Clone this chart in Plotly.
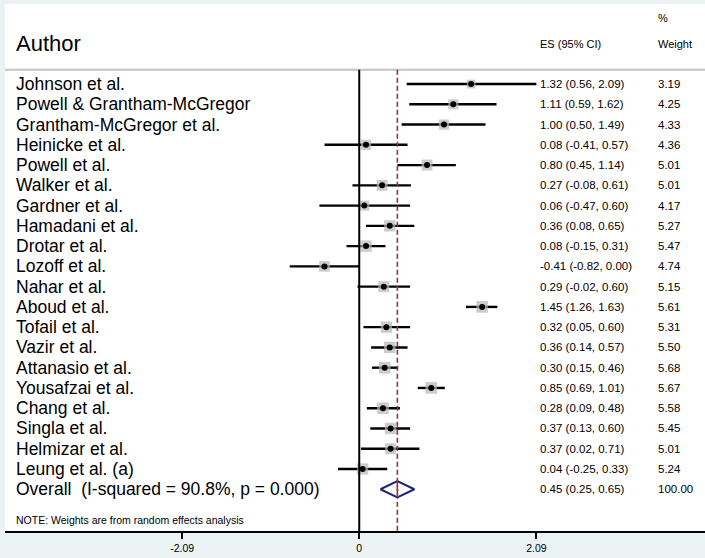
import numpy as np
import plotly.graph_objects as go

# Study-level effect sizes (standardised mean differences) with 95% CI and random-effects weights
authors = [
    "Johnson et al.", "Powell & Grantham-McGregor", "Grantham-McGregor et al.",
    "Heinicke et al.", "Powell et al.", "Walker et al.", "Gardner et al.",
    "Hamadani et al.", "Drotar et al.", "Lozoff et al.", "Nahar et al.",
    "Aboud et al.", "Tofail et al.", "Vazir et al.", "Attanasio et al.",
    "Yousafzai et al.", "Chang et al.", "Singla et al.", "Helmizar et al.",
    "Leung et al. (a)",
]
es = [1.32, 1.11, 1.00, 0.08, 0.80, 0.27, 0.06, 0.36, 0.08, -0.41,
      0.29, 1.45, 0.32, 0.36, 0.30, 0.85, 0.28, 0.37, 0.37, 0.04]
ci_low = [0.56, 0.59, 0.50, -0.41, 0.45, -0.08, -0.47, 0.08, -0.15, -0.82,
          -0.02, 1.26, 0.05, 0.14, 0.15, 0.69, 0.09, 0.13, 0.02, -0.25]
ci_high = [2.09, 1.62, 1.49, 0.57, 1.14, 0.61, 0.60, 0.65, 0.31, 0.00,
           0.60, 1.63, 0.60, 0.57, 0.46, 1.01, 0.48, 0.60, 0.71, 0.33]
weights = [3.19, 4.25, 4.33, 4.36, 5.01, 5.01, 4.17, 5.27, 5.47, 4.74,
           5.15, 5.61, 5.31, 5.50, 5.68, 5.67, 5.58, 5.45, 5.01, 5.24]

overall_label = "Overall&nbsp;&nbsp;(I-squared = 90.8%, p = 0.000)"
overall_es, overall_low, overall_high, overall_weight = 0.45, 0.25, 0.65, 100.00

tick_vals = [-2.09, 0, 2.09]
tick_text = ["-2.09", "0", "2.09"]

n = len(authors)
rows = list(range(n))
overall_row = n

FONT = "Liberation Sans, Arial, Helvetica, sans-serif"
BG = "#eaf2f3"
RED = "#9e2f3a"
DASH = "5px,3px"

fig = go.Figure()

# Confidence interval whiskers
cx, cy = [], []
for r, lo, hi in zip(rows, ci_low, ci_high):
    cx += [lo, hi, None]
    cy += [r, r, None]
fig.add_trace(go.Scatter(x=cx, y=cy, mode="lines",
                         line=dict(color="black", width=2.4),
                         hoverinfo="skip", showlegend=False))

# Weight boxes (area proportional to weight)
fig.add_trace(go.Scatter(
    x=es, y=rows, mode="markers",
    marker=dict(symbol="square", size=[4.9 * np.sqrt(w) for w in weights],
                color="#b7b7b7", line=dict(width=0)),
    showlegend=False, hoverinfo="skip"))

# Point estimates
fig.add_trace(go.Scatter(
    x=es, y=rows, mode="markers",
    marker=dict(symbol="circle", size=6, color="black", line=dict(width=0)),
    showlegend=False, hoverinfo="skip"))

# Pooled estimate diamond
dh = 0.4
fig.add_trace(go.Scatter(
    x=[overall_low, overall_es, overall_high, overall_es, overall_low],
    y=[overall_row, overall_row - dh, overall_row, overall_row + dh, overall_row],
    mode="lines", fill="toself", fillcolor="white",
    line=dict(color="#1c2476", width=2),
    showlegend=False, hoverinfo="skip"))
fig.add_trace(go.Scatter(
    x=[overall_es, overall_es], y=[overall_row - dh, overall_row + dh],
    mode="lines", line=dict(color=RED, width=1.6, dash=DASH),
    showlegend=False, hoverinfo="skip"))

y_top, y_bot = -3.95, 22.06
header_line = -0.7

shapes = [
    # header separator
    dict(type="line", xref="paper", yref="y", x0=0, x1=1,
         y0=header_line, y1=header_line, line=dict(color="#c3c3c3", width=2)),
    # line of no effect
    dict(type="line", xref="x", yref="y", x0=0, x1=0,
         y0=header_line, y1=y_bot, line=dict(color="black", width=2)),
    # pooled effect reference
    dict(type="line", xref="x", yref="y", x0=overall_es, x1=overall_es,
         y0=header_line, y1=y_bot, line=dict(color=RED, width=1.6, dash=DASH)),
]

annotations = []
x_name, x_es, x_w = 0.0129, 0.761, 0.930
name_size, col_size = 17.5, 11.5


def add_text(x, y, text, size):
    annotations.append(dict(x=x, y=y, xref="paper", yref="y", text=text,
                            showarrow=False, xanchor="left", yanchor="middle",
                            font=dict(family=FONT, size=size, color="black")))


# headers
add_text(x_name, -2.0, "Author", 22)
add_text(x_es, -2.0, "ES (95% CI)", 11)
add_text(x_w, -3.25, "%", 11)
add_text(x_w, -2.0, "Weight", 11)

for r, a, e, lo, hi, w in zip(rows, authors, es, ci_low, ci_high, weights):
    add_text(x_name, r, a, name_size)
    add_text(x_es, r, f"{e:.2f} ({lo:.2f}, {hi:.2f})", col_size)
    add_text(x_w, r, f"{w:.2f}", col_size)

add_text(x_name, overall_row, overall_label, name_size)
add_text(x_es, overall_row,
         f"{overall_es:.2f} ({overall_low:.2f}, {overall_high:.2f})", col_size)
add_text(x_w, overall_row, f"{overall_weight:.2f}", col_size)

add_text(x_name, overall_row + 1.5,
         "NOTE: Weights are from random effects analysis", 10.5)

fig.update_layout(
    width=705, height=558,
    margin=dict(l=5, r=0, t=4, b=27),
    paper_bgcolor=BG, plot_bgcolor="white",
    shapes=shapes, annotations=annotations,
    xaxis=dict(range=[-4.18, 4.08], showgrid=False, zeroline=False,
               tickvals=tick_vals, ticktext=tick_text,
               ticks="outside", ticklen=6, tickwidth=2, tickcolor="black",
               showline=True, linecolor="black", linewidth=2,
               tickfont=dict(family=FONT, size=10.5, color="black")),
    yaxis=dict(range=[y_bot, y_top], showgrid=False, zeroline=False,
               showticklabels=False, showline=False, ticks=""),
)

fig.write_html("out.html")
